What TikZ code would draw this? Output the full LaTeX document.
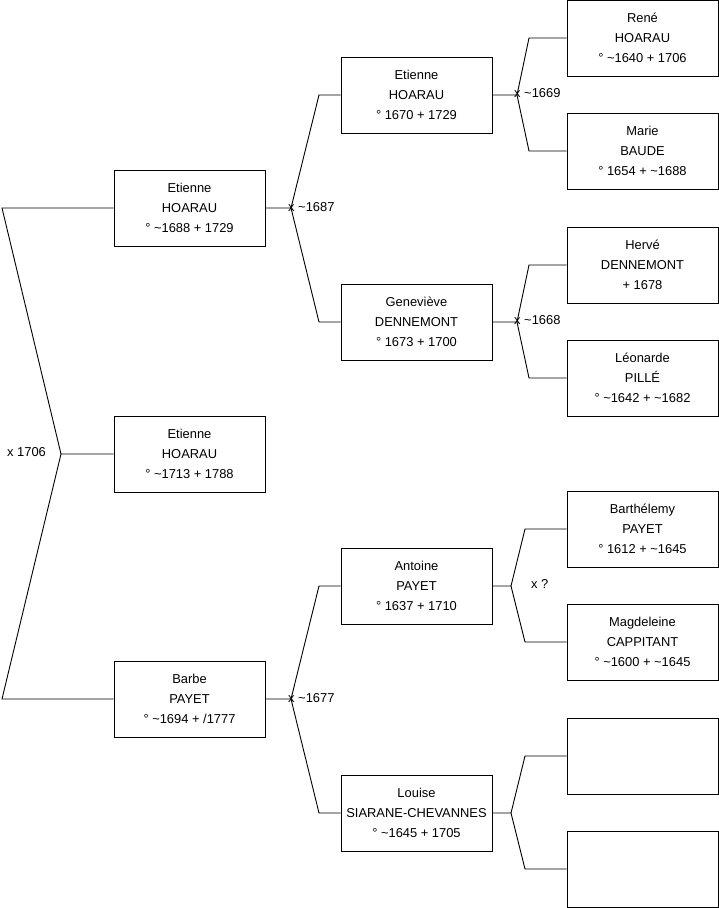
\documentclass[tikz,border=0pt]{standalone}
\usepackage{fontspec}
\setmainfont{Liberation Sans}
\begin{document}
\begin{tikzpicture}[x=1pt,y=-1pt,
  person/.style={draw=black,line width=1pt,fill=white,minimum width=151pt,minimum height=76pt,
    align=center,inner sep=0pt,font=\fontsize{12.9}{20}\selectfont},
  link/.style={draw=black,line width=0.9pt},
  marr/.style={anchor=west,inner sep=0pt,font=\fontsize{12.9}{14}\selectfont}]
\useasboundingbox (0,0) rectangle (719,908);
% column 1
\node[person] (e1688) at (189.5,208) {Etienne\\HOARAU\\° \textasciitilde1688 + 1729};
\node[person] (e1713) at (189.5,454) {Etienne\\HOARAU\\° \textasciitilde1713 + 1788};
\node[person] (barbe) at (189.5,699) {Barbe\\PAYET\\° \textasciitilde1694 + /1777};
% column 2
\node[person] (e1670) at (416.5,95) {Etienne\\HOARAU\\° 1670 + 1729};
\node[person] (gene) at (416.5,322) {Geneviève\\DENNEMONT\\° 1673 + 1700};
\node[person] (antoine) at (416.5,586) {Antoine\\PAYET\\° 1637 + 1710};
\node[person] (louise) at (416.5,813) {Louise\\SIARANE-CHEVANNES\\° \textasciitilde1645 + 1705};
% column 3
\node[person] (rene) at (642.5,38) {René\\HOARAU\\° \textasciitilde1640 + 1706};
\node[person] (marie) at (642.5,151) {Marie\\BAUDE\\° 1654 + \textasciitilde1688};
\node[person] (herve) at (642.5,265) {Hervé\\DENNEMONT\\+ 1678};
\node[person] (leon) at (642.5,378) {Léonarde\\PILLÉ\\° \textasciitilde1642 + \textasciitilde1682};
\node[person] (barth) at (642.5,529) {Barthélemy\\PAYET\\° 1612 + \textasciitilde1645};
\node[person] (magd) at (642.5,642) {Magdeleine\\CAPPITANT\\° \textasciitilde1600 + \textasciitilde1645};
\node[person] (blanka) at (642.5,756) {};
\node[person] (blankb) at (642.5,869) {};
% junctions
\coordinate (j0) at (61,454);
\coordinate (j1) at (291,208);
\coordinate (j2) at (291,699);
\coordinate (j3) at (517,95);
\coordinate (j4) at (517,322);
\coordinate (j5) at (511,586);
\coordinate (j6) at (511,813);
% connectors
\draw[link] (e1713.west) -- (j0) -- (2,208) -- (e1688.west);
\draw[link] (j0) -- (2,699) -- (barbe.west);
\draw[link] (e1688.east) -- (j1) -- (319,95) -- (e1670.west);
\draw[link] (j1) -- (319,322) -- (gene.west);
\draw[link] (barbe.east) -- (j2) -- (319,586) -- (antoine.west);
\draw[link] (j2) -- (319,813) -- (louise.west);
\draw[link] (e1670.east) -- (j3) -- (529,38) -- (rene.west);
\draw[link] (j3) -- (529,151) -- (marie.west);
\draw[link] (gene.east) -- (j4) -- (529,265) -- (herve.west);
\draw[link] (j4) -- (529,378) -- (leon.west);
\draw[link] (antoine.east) -- (j5) -- (525,529) -- (barth.west);
\draw[link] (j5) -- (525,642) -- (magd.west);
\draw[link] (louise.east) -- (j6) -- (525,756) -- (blanka.west);
\draw[link] (j6) -- (525,869) -- (blankb.west);
% marriage labels
\node[marr] (m0) at (7,452) {x 1706};
\node[marr] (m1) at (288,207) {x \textasciitilde1687};
\node[marr] (m2) at (288,698) {x \textasciitilde1677};
\node[marr] (m3) at (514,93) {x \textasciitilde1669};
\node[marr] (m4) at (514,320) {x \textasciitilde1668};
\node[marr] (m5) at (531,584) {x ?};
\end{tikzpicture}
\end{document}
